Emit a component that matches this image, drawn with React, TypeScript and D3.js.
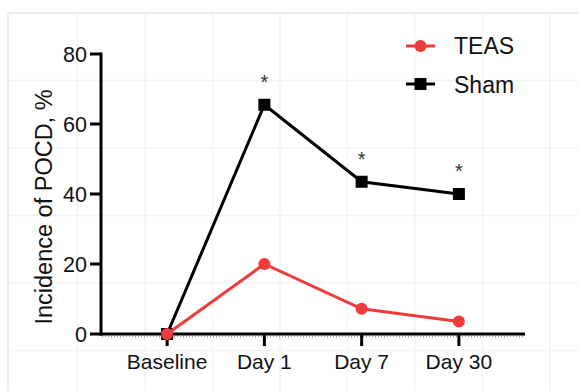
import React from "react";
import * as d3 from "d3";

const categories = ["Baseline", "Day 1", "Day 7", "Day 30"];
const teasValues = [0, 20, 7.2, 3.6];
const shamValues = [0, 65.5, 43.5, 40];
const significant = [false, true, true, true];
const yTicks = [0, 20, 40, 60, 80];
const seriesNames = ["TEAS", "Sham"];

const W = 579;
const H = 391;
const FONT = "'Liberation Sans', Arial, Helvetica, sans-serif";
const RED = "#ef3b3b";
const BLACK = "#000";

export default function App() {
  const x = d3.scalePoint<string>().domain(categories).range([101, 525]).padding(0.68);
  const y = d3.scaleLinear().domain([0, 80]).range([334, 54]);
  const line = d3
    .line<number>()
    .x((_, i) => x(categories[i]) as number)
    .y((d) => y(d));

  const gridX = d3.range(77.5, W, 67.5);
  const gridY = d3.range(13 + 67.5, H, 67.5);

  return (
    <svg
      width={W}
      height={H}
      style={{ position: "absolute", left: 0, top: 0, background: "#fff" }}
      fontFamily={FONT}
    >
      <rect x={0} y={0} width={W} height={H} fill="#fff" />
      {/* faint background grid */}
      {gridX.map((gx) => (
        <line key={"gx" + gx} x1={gx} x2={gx} y1={13} y2={H} stroke="#f3f3f3" strokeWidth={1.5} />
      ))}
      {gridY.map((gy) => (
        <line key={"gy" + gy} x1={8} x2={W} y1={gy} y2={gy} stroke="#f3f3f3" strokeWidth={1.5} />
      ))}
      <line x1={8} x2={W} y1={13} y2={13} stroke="#e4e4e4" strokeWidth={1.5} />
      <line x1={8} x2={8} y1={13} y2={H} stroke="#e8e8e8" strokeWidth={1.5} />

      {/* y axis */}
      <line x1={101} x2={101} y1={y(80) - 1.5} y2={y(0) + 1.5} stroke={BLACK} strokeWidth={3} />
      {yTicks.map((t) => (
        <g key={"yt" + t}>
          <line x1={90} x2={101} y1={y(t)} y2={y(t)} stroke={BLACK} strokeWidth={3} />
          <text x={87} y={y(t)} dy="0.36em" textAnchor="end" fontSize={21.5} fill="#111">
            {t}
          </text>
        </g>
      ))}
      <text
        transform={`translate(${44},${207}) rotate(-90)`}
        textAnchor="middle"
        dy="0.36em"
        fontSize={23.5}
        fill="#111"
      >
        Incidence of POCD, %
      </text>

      {/* x axis */}
      <line x1={99.5} x2={525} y1={y(0)} y2={y(0)} stroke={BLACK} strokeWidth={3} />
      <line
        x1={102}
        x2={525}
        y1={y(0) + 2.5}
        y2={y(0) + 2.5}
        stroke="#555"
        strokeWidth={1.5}
        strokeDasharray="1,2"
        opacity={0.6}
      />
      {categories.map((c) => (
        <g key={"xt" + c}>
          <line x1={x(c)} x2={x(c)} y1={y(0)} y2={y(0) + 12} stroke={BLACK} strokeWidth={3} />
          <text x={x(c)} y={368.5} textAnchor="middle" fontSize={21} fill="#111">
            {c}
          </text>
        </g>
      ))}

      {/* Sham series */}
      <path d={line(shamValues) || ""} fill="none" stroke={BLACK} strokeWidth={3} />
      {shamValues.map((v, i) => (
        <rect
          key={"sq" + i}
          x={(x(categories[i]) as number) - 6}
          y={y(v) - 6}
          width={12}
          height={12}
          fill={BLACK}
        />
      ))}

      {/* TEAS series */}
      <path d={line(teasValues) || ""} fill="none" stroke={RED} strokeWidth={3} />
      {teasValues.map((v, i) => (
        <circle key={"c" + i} cx={x(categories[i]) as number} cy={y(v)} r={6} fill={RED} />
      ))}

      {/* significance markers */}
      {shamValues.map((v, i) =>
        significant[i] ? (
          <text
            key={"s" + i}
            x={x(categories[i]) as number}
            y={y(v + 8)}
            dy="0.6em"
            textAnchor="middle"
            fontSize={20}
            fill="#333"
          >
            *
          </text>
        ) : null
      )}

      {/* legend */}
      <g>
        <line x1={406} x2={435} y1={46} y2={46} stroke={RED} strokeWidth={3} />
        <circle cx={420.5} cy={46} r={6} fill={RED} />
        <text x={454} y={54} fontSize={23} fill="#111">
          {seriesNames[0]}
        </text>
        <line x1={406} x2={435} y1={84} y2={84} stroke={BLACK} strokeWidth={3} />
        <rect x={414.5} y={78} width={12} height={12} fill={BLACK} />
        <text x={454} y={93} fontSize={23} fill="#111">
          {seriesNames[1]}
        </text>
      </g>
    </svg>
  );
}
